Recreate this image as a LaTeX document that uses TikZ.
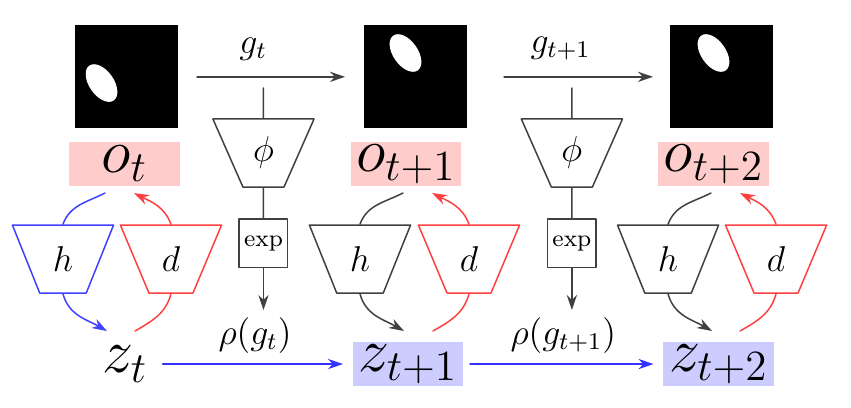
\documentclass[tikz,border=0pt]{standalone}
\usepackage{amsmath,amssymb,amsfonts}
\usetikzlibrary{arrows.meta,shapes.geometric}

\begin{document}
\begin{tikzpicture}[line cap=round,line join=round,>={Stealth[length=5pt,width=3.4pt,inset=1.6pt]},line width=0.5pt,x=1.0cm,y=1.0cm,
        frame/.style={fill=black,minimum size=1.21cm,inner sep=0pt},
        blob/.style={ellipse,fill=white,minimum width=0.5cm,minimum height=0.29cm,inner sep=0pt,rotate=-55},
        obs/.style={fill=red!20,minimum width=1.3cm,minimum height=0.52cm,inner sep=0pt,font=\huge},
        lat/.style={fill=blue!20,minimum width=1.3cm,minimum height=0.52cm,inner sep=0pt,font=\huge},
        net/.style={draw,trapezium,shape border rotate=180,trapezium angle=64.5,trapezium stretches=true,minimum width=1.19cm,minimum height=0.8cm,inner sep=0pt,font=\large},
        expbox/.style={draw=black!75,minimum size=0.57cm,inner sep=0pt,font=\footnotesize},
        grey/.style={black!75}]
        \useasboundingbox (0,0) rectangle (10,4.783);
        \node[frame] (img1) at (1.492,3.88) {};
        \node[frame] (img2) at (4.877,3.88) {};
        \node[frame] (img3) at (8.479,3.88) {};
        \node[blob] (s1) at (1.193,3.807) {};
        \node[blob] (s2) at (4.765,4.160) {};
        \node[blob] (s3) at (8.384,4.160) {};
        \coordinate (ga1) at (2.315,3.88);
        \coordinate (gb1) at (4.054,3.88);
        \coordinate (ga2) at (5.923,3.88);
        \coordinate (gb2) at (7.673,3.88);
        \draw[->,grey] (ga1) -- (gb1) node[pos=0.38,above=2pt,black,font=\large] {$g_t$};
        \draw[->,grey] (ga2) -- (gb2) node[pos=0.38,above=2pt,black,font=\large] {$g_{t+1}$};
        \node[obs] (o1) at (1.463,2.856) {$o_t$};
        \node[obs] (o2) at (4.771,2.856) {$o_{t+1}$};
        \node[obs] (o3) at (8.384,2.856) {$o_{t+2}$};
        \node[font=\huge] (z1) at (1.469,0.505) {$z_t$};
        \node[lat] (z2) at (4.794,0.505) {$z_{t+1}$};
        \node[lat] (z3) at (8.443,0.505) {$z_{t+2}$};
        \draw[->,blue!80,shorten <=1.5pt,shorten >=3pt] (z1) -- (z2) node[midway,above,black,font=\large] (rho1) {$\rho(g_t)$};
        \draw[->,blue!80,shorten <=2pt,shorten >=3pt] (z2) -- (z3) node[midway,above,black,font=\large] (rho2) {$\rho(g_{t+1})$};
        \node[net,draw=black!75] (phi1) at (3.096,2.985) {$\phi$};
        \node[net,draw=black!75] (phi2) at (6.720,2.985) {$\phi$};
        \node[expbox] (exp1) at (3.096,1.927) {exp};
        \node[expbox] (exp2) at (6.720,1.927) {exp};
        \coordinate (p1) at (3.096,3.749);
        \coordinate (p2) at (6.720,3.749);
        \coordinate (r1) at (3.096,1.140);
        \coordinate (r2) at (6.720,1.140);
        \draw[grey] (p1) -- (phi1);
        \draw[grey] (phi1) -- (exp1);
        \draw[->,grey] (exp1) -- (r1);
        \draw[grey] (p2) -- (phi2);
        \draw[grey] (phi2) -- (exp2);
        \draw[->,grey] (exp2) -- (r2);
        \node[net,draw=blue!75] (h1) at (0.740,1.739) {$h$};
        \node[net,draw=red!75] (d1) at (2.009,1.739) {$d$};
        \node[net,draw=black!75] (h2) at (4.230,1.739) {$h$};
        \node[net,draw=red!75] (d2) at (5.511,1.739) {$d$};
        \node[net,draw=black!75] (h3) at (7.850,1.739) {$h$};
        \node[net,draw=red!75] (d3) at (9.119,1.739) {$d$};
        \coordinate (a1) at (1.234,2.515);
        \coordinate (b1) at (1.575,2.515);
        \coordinate (c1) at (1.257,0.893);
        \coordinate (e1) at (1.586,0.893);
        \coordinate (a2) at (4.736,2.515);
        \coordinate (b2) at (5.077,2.515);
        \coordinate (c2) at (4.747,0.893);
        \coordinate (e2) at (5.088,0.893);
        \coordinate (a3) at (8.355,2.515);
        \coordinate (b3) at (8.696,2.515);
        \coordinate (c3) at (8.367,0.893);
        \coordinate (e3) at (8.696,0.893);
        \draw[blue!75] (a1) to[out=207,in=70] (h1.north);
        \draw[->,blue!75] (h1.south) to[out=-75,in=150] (c1);
        \draw[->,red!75] (d1.north) to[out=110,in=-27] (b1);
        \draw[red!75] (e1) to[out=30,in=-105] (d1.south);
        \draw[grey] (a2) to[out=207,in=70] (h2.north);
        \draw[->,grey] (h2.south) to[out=-75,in=150] (c2);
        \draw[->,red!75] (d2.north) to[out=110,in=-27] (b2);
        \draw[red!75] (e2) to[out=30,in=-105] (d2.south);
        \draw[grey] (a3) to[out=207,in=70] (h3.north);
        \draw[->,grey] (h3.south) to[out=-75,in=150] (c3);
        \draw[->,red!75] (d3.north) to[out=110,in=-27] (b3);
        \draw[red!75] (e3) to[out=30,in=-105] (d3.south);
\end{tikzpicture}
\end{document}
